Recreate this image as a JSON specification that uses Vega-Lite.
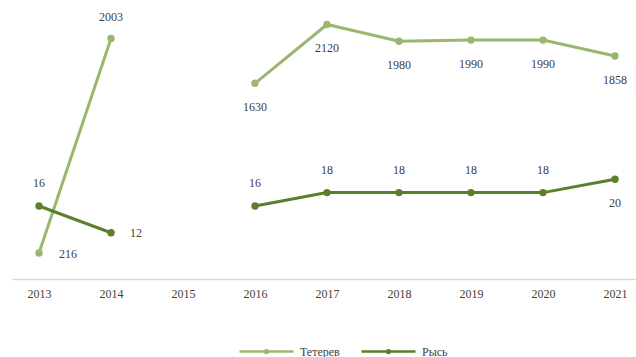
{
  "$schema": "https://vega.github.io/schema/vega-lite/v6.json",
  "autosize": {"type": "none"},
  "padding": {"left": 12, "top": 0, "right": 0, "bottom": 78},
  "width": 624,
  "height": 279,
  "background": "white",
  "config": {
    "view": {"stroke": null},
    "font": "Liberation Serif",
    "text": {"font": "Liberation Serif", "fontSize": 12, "fill": "#404040", "baseline": "middle", "align": "center", "strokeWidth": 0, "strokeOpacity": 0}
  },
  "data": {
    "values": [
      {"year": 2013, "series": "Тетерев", "value": 216},
      {"year": 2014, "series": "Тетерев", "value": 2003},
      {"year": 2015, "series": "Тетерев", "value": null},
      {"year": 2016, "series": "Тетерев", "value": 1630},
      {"year": 2017, "series": "Тетерев", "value": 2120},
      {"year": 2018, "series": "Тетерев", "value": 1980},
      {"year": 2019, "series": "Тетерев", "value": 1990},
      {"year": 2020, "series": "Тетерев", "value": 1990},
      {"year": 2021, "series": "Тетерев", "value": 1858},
      {"year": 2013, "series": "Рысь", "value": 16},
      {"year": 2014, "series": "Рысь", "value": 12},
      {"year": 2015, "series": "Рысь", "value": null},
      {"year": 2016, "series": "Рысь", "value": 16},
      {"year": 2017, "series": "Рысь", "value": 18},
      {"year": 2018, "series": "Рысь", "value": 18},
      {"year": 2019, "series": "Рысь", "value": 18},
      {"year": 2020, "series": "Рысь", "value": 18},
      {"year": 2021, "series": "Рысь", "value": 20}
    ]
  },
  "encoding": {
    "x": {
      "field": "year", "type": "quantitative",
      "scale": {"domain": [2012.625, 2021.2917], "nice": false, "zero": false},
      "axis": {
        "values": [2013, 2014, 2015, 2016, 2017, 2018, 2019, 2020, 2021],
        "format": "d", "title": null, "ticks": false, "grid": false,
        "domainColor": "#D9D9D9", "domainWidth": 1.5,
        "labelFont": "Liberation Serif", "labelFontSize": 12, "labelColor": "#404040",
        "labelPadding": 9
      }
    }
  },
  "layer": [
    {
      "transform": [{"filter": "datum.series == 'Тетерев'"}],
      "encoding": {
        "y": {"field": "value", "type": "quantitative", "scale": {"domain": [0, 2324], "nice": false, "zero": false}, "axis": null}
      },
      "layer": [
        {
          "mark": {"type": "line", "strokeWidth": 3, "invalid": "break-paths-show-domains", "point": {"filled": true, "size": 55}},
          "encoding": {
            "color": {
              "field": "series", "type": "nominal",
              "scale": {"domain": ["Тетерев", "Рысь"], "range": ["#9BB66F", "#5B7F2A"]},
              "legend": {
                "title": null, "orient": "none", "legendX": 226, "legendY": 323,
                "direction": "horizontal", "columnPadding": 16, "labelOffset": 5,
                "symbolType": "M-1,0H1M-0.05,0A0.05,0.05,0,1,0,0.05,0A0.05,0.05,0,1,0,-0.05,0Z",
                "symbolSize": 2916, "symbolStrokeWidth": 2.5,
                "labelFont": "Liberation Serif", "labelFontSize": 12, "labelColor": "#404040",
                "encode": {"symbols": {"update": {"fill": {"scale": "color", "field": "value"}, "stroke": {"scale": "color", "field": "value"}}}}
              }
            }
          }
        },
        {
          "transform": [{"filter": "datum.year >= 2016"}],
          "mark": {"type": "text", "dy": 24},
          "encoding": {"text": {"field": "value", "type": "quantitative", "format": "d"}}
        },
        {
          "transform": [{"filter": "datum.year == 2014"}],
          "mark": {"type": "text", "dy": -22},
          "encoding": {"text": {"field": "value", "type": "quantitative", "format": "d"}}
        },
        {
          "transform": [{"filter": "datum.year == 2013"}],
          "mark": {"type": "text", "dx": 29, "dy": 1},
          "encoding": {"text": {"field": "value", "type": "quantitative", "format": "d"}}
        }
      ]
    },
    {
      "transform": [{"filter": "datum.series == 'Рысь'"}],
      "encoding": {
        "y": {"field": "value", "type": "quantitative", "scale": {"domain": [5.09, 46.79], "nice": false, "zero": false}, "axis": null}
      },
      "layer": [
        {
          "mark": {"type": "line", "strokeWidth": 3, "invalid": "break-paths-show-domains", "point": {"filled": true, "size": 55}},
          "encoding": {"color": {"field": "series", "type": "nominal"}}
        },
        {
          "transform": [{"filter": "datum.year != 2014 && datum.year != 2021"}],
          "mark": {"type": "text", "dy": -23},
          "encoding": {"text": {"field": "value", "type": "quantitative", "format": "d"}}
        },
        {
          "transform": [{"filter": "datum.year == 2021"}],
          "mark": {"type": "text", "dy": 24},
          "encoding": {"text": {"field": "value", "type": "quantitative", "format": "d"}}
        },
        {
          "transform": [{"filter": "datum.year == 2014"}],
          "mark": {"type": "text", "dx": 25},
          "encoding": {"text": {"field": "value", "type": "quantitative", "format": "d"}}
        }
      ]
    }
  ],
  "resolve": {"scale": {"y": "independent"}}
}
